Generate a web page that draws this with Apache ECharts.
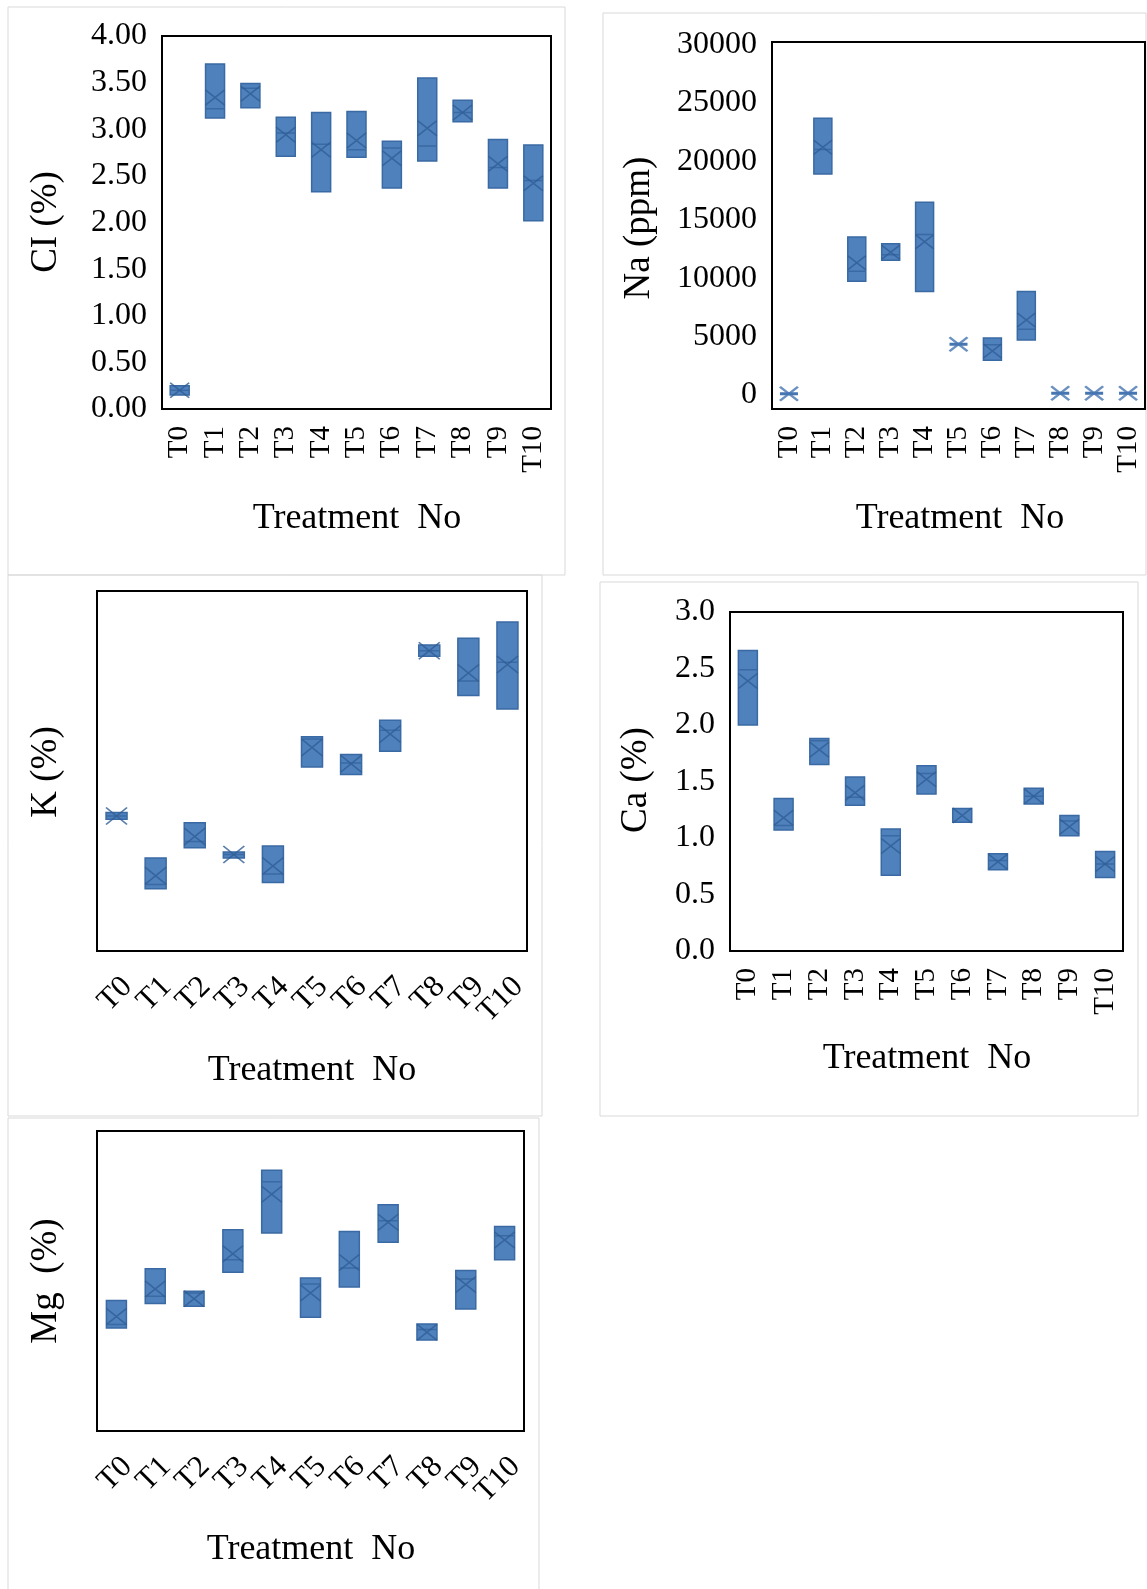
<!DOCTYPE html>
<html>
<head>
<meta charset="utf-8">
<script src="https://cdn.jsdelivr.net/npm/echarts@6/dist/echarts.min.js"></script>
<style>
  html, body { margin: 0; padding: 0; background: #fff; }
  #chart { width: 1147px; height: 1589px; }
</style>
</head>
<body>
<div id="chart"></div>
<script>
// treatments on the x axis
const categories = ["T0", "T1", "T2", "T3", "T4", "T5", "T6", "T7", "T8", "T9", "T10"];

// Cl (%) : lower quartile, median, upper quartile, mean
const clQ1 = [0.15, 3.12, 3.23, 2.71, 2.33, 2.70, 2.37, 2.66, 3.08, 2.37, 2.02];
const clMedian = [0.20, 3.22, 3.44, 2.96, 2.84, 2.78, 2.80, 2.82, 3.18, 2.59, 2.45];
const clQ3 = [0.25, 3.70, 3.49, 3.13, 3.18, 3.19, 2.87, 3.55, 3.31, 2.89, 2.83];
const clMean = [0.20, 3.34, 3.38, 2.94, 2.78, 2.88, 2.69, 3.01, 3.18, 2.63, 2.42];

// Na (ppm)
const naQ1 = [100, 18910, 9740, 11520, 8860, 4340, 2980, 4710, 150, 150, 150];
const naMedian = [100, 21000, 10590, 12000, 13730, 4340, 4300, 5630, 150, 150, 150];
const naQ3 = [100, 23680, 13510, 12940, 16490, 4340, 4870, 8860, 150, 150, 150];
const naMean = [100, 21200, 11310, 12210, 13100, 4340, 3770, 6420, 150, 150, 150];
const naTicks = [0, 5000, 10000, 15000, 20000, 25000, 30000];

// K (%) : the source axis has no tick labels, values read on a 0-1 relative scale
const kQ1 = [0.366, 0.173, 0.287, 0.258, 0.190, 0.511, 0.490, 0.555, 0.819, 0.710, 0.672];
const kMedian = [0.375, 0.185, 0.304, 0.268, 0.214, 0.589, 0.522, 0.613, 0.834, 0.750, 0.802];
const kQ3 = [0.385, 0.258, 0.356, 0.275, 0.292, 0.595, 0.546, 0.641, 0.850, 0.869, 0.914];
const kMean = [0.375, 0.209, 0.318, 0.268, 0.236, 0.565, 0.520, 0.603, 0.834, 0.772, 0.796];

// Ca (%)
const caQ1 = [2.00, 1.07, 1.65, 1.29, 0.67, 1.39, 1.14, 0.72, 1.30, 1.02, 0.65];
const caMedian = [2.49, 1.11, 1.86, 1.36, 1.02, 1.57, 1.26, 0.80, 1.37, 1.15, 0.77];
const caQ3 = [2.66, 1.35, 1.88, 1.54, 1.08, 1.64, 1.26, 0.86, 1.44, 1.20, 0.88];
const caMean = [2.39, 1.18, 1.78, 1.40, 0.93, 1.52, 1.20, 0.79, 1.37, 1.10, 0.77];

// Mg (%) : no tick labels in the source, 0-1 relative scale
const mgQ1 = [0.343, 0.425, 0.416, 0.529, 0.660, 0.379, 0.480, 0.629, 0.303, 0.407, 0.571];
const mgMedian = [0.355, 0.449, 0.460, 0.571, 0.831, 0.490, 0.543, 0.701, 0.338, 0.507, 0.651];
const mgQ3 = [0.435, 0.541, 0.466, 0.671, 0.869, 0.510, 0.665, 0.754, 0.357, 0.535, 0.682];
const mgMean = [0.382, 0.473, 0.441, 0.591, 0.789, 0.460, 0.562, 0.696, 0.329, 0.488, 0.637];

const FONT = "Liberation Serif";
const BOX_FILL = "#4f81bd";
const BOX_EDGE = "#3a6aa3";
const MEAN_EDGE = "#2f5e96";
const STAR_EDGE = "#4676b2";
const CROSS = "path://M0,0L20,16M20,0L0,16";

const chart = echarts.init(document.getElementById("chart"));

// one entry per panel: frame, plot box, axis settings
const panels = [
  {
    q1: clQ1, med: clMedian, q3: clQ3, mean: clMean,
    frame: [8, 7, 557, 568], plot: [162, 36, 389, 373],
    min: 0, max: 4, interval: 0.5, digits: 2, rotate: 90, boxW: 19,
    yName: "CI (%)", yNamePos: [46, 222], xNamePos: [357, 519],
  },
  {
    q1: naQ1, med: naMedian, q3: naQ3, mean: naMean,
    frame: [603, 13, 543, 562], plot: [772, 42, 373, 367],
    min: -1200, max: 30200, ticks: naTicks, digits: 0, rotate: 90, boxW: 18,
    yName: "Na (ppm)", yNamePos: [639, 228], xNamePos: [960, 519],
  },
  {
    q1: kQ1, med: kMedian, q3: kQ3, mean: kMean,
    frame: [8, 575, 534, 541], plot: [97, 591, 430, 360],
    min: 0, max: 1, hideY: true, rotate: 45, boxW: 21,
    yName: "K (%)", yNamePos: [46, 772], xNamePos: [312, 1071],
  },
  {
    q1: caQ1, med: caMedian, q3: caQ3, mean: caMean,
    frame: [600, 582, 538, 534], plot: [730, 612, 393, 339],
    min: 0, max: 3, interval: 0.5, digits: 1, rotate: 90, boxW: 19,
    yName: "Ca (%)", yNamePos: [636, 780], xNamePos: [927, 1059],
  },
  {
    q1: mgQ1, med: mgMedian, q3: mgQ3, mean: mgMean,
    frame: [8, 1118, 531, 475], plot: [97, 1131, 427, 300],
    min: 0, max: 1, hideY: true, rotate: 45, boxW: 20,
    yName: "Mg  (%)", yNamePos: [46, 1281], xNamePos: [311, 1550],
  },
];

const grids = [];
const xAxes = [];
const yAxes = [];
const series = [];
const graphics = [];

panels.forEach((p, i) => {
  grids.push({
    left: p.plot[0], top: p.plot[1], width: p.plot[2], height: p.plot[3],
    show: true, borderColor: "#000", borderWidth: 2, backgroundColor: "#fff",
    containLabel: false, outerBoundsMode: "none",
  });
  const upright = p.rotate === 90;
  const xLabel = {
    interval: 0, rotate: p.rotate, margin: upright ? 17 : 20,
    fontFamily: FONT, fontSize: upright ? 29 : 31, color: "#000",
  };
  if (!upright) {
    xLabel.align = "right";
    xLabel.verticalAlign = "top";
  }
  xAxes.push({
    type: "category", gridIndex: i, data: categories,
    axisLine: { show: false }, axisTick: { show: false }, splitLine: { show: false },
    axisLabel: xLabel,
  });
  const yAxis = {
    type: "value", gridIndex: i, min: p.min, max: p.max, scale: true,
    axisLine: { show: false }, axisTick: { show: false }, splitLine: { show: false },
    axisLabel: {
      show: !p.hideY, margin: 15, fontFamily: FONT, fontSize: 32, color: "#000",
      formatter: (v) => Number(v).toFixed(p.digits || 0),
    },
  };
  if (p.interval) yAxis.interval = p.interval;
  if (p.ticks) yAxis.axisLabel.customValues = p.ticks;
  yAxes.push(yAxis);

  // a box with no spread shows as a bold bar with a star-like cross
  series.push({
    type: "boxplot", xAxisIndex: i, yAxisIndex: i,
    boxWidth: [p.boxW, p.boxW],
    itemStyle: { color: BOX_FILL, borderColor: BOX_EDGE, borderWidth: 1.5 },
    emphasis: { disabled: true },
    data: categories.map((c, k) => {
      const item = { value: [p.q1[k], p.q1[k], p.med[k], p.q3[k], p.q3[k]] };
      if (p.q1[k] === p.q3[k]) {
        item.itemStyle = { borderColor: STAR_EDGE, borderWidth: 3 };
      }
      return item;
    }),
  });
  series.push({
    type: "scatter", xAxisIndex: i, yAxisIndex: i, z: 5,
    symbol: CROSS, symbolSize: [p.boxW, Math.round(p.boxW * 0.8)],
    itemStyle: { color: "none", borderColor: MEAN_EDGE, borderWidth: 1.6 },
    data: p.mean.map((m, k) => {
      if (p.q1[k] !== p.q3[k]) return m;
      return { value: m, itemStyle: { borderColor: STAR_EDGE, borderWidth: 2.4 } };
    }),
  });

  graphics.push({
    type: "rect", z: -10, silent: true,
    shape: { x: p.frame[0], y: p.frame[1], width: p.frame[2], height: p.frame[3] },
    style: { fill: "none", stroke: "#d9d9d9", lineWidth: 1 },
  });
  graphics.push({
    type: "text", x: p.yNamePos[0], y: p.yNamePos[1], rotation: Math.PI / 2,
    style: {
      text: p.yName, font: "37px " + FONT, fill: "#000",
      textAlign: "center", textVerticalAlign: "middle",
    },
  });
  graphics.push({
    type: "text", x: p.xNamePos[0], y: p.xNamePos[1],
    style: {
      text: "Treatment  No", font: "36px " + FONT, fill: "#000",
      textAlign: "center", textVerticalAlign: "middle",
    },
  });
});

chart.setOption({
  animation: false,
  backgroundColor: "#fff",
  grid: grids,
  xAxis: xAxes,
  yAxis: yAxes,
  series: series,
  graphic: graphics,
});
</script>
</body>
</html>
